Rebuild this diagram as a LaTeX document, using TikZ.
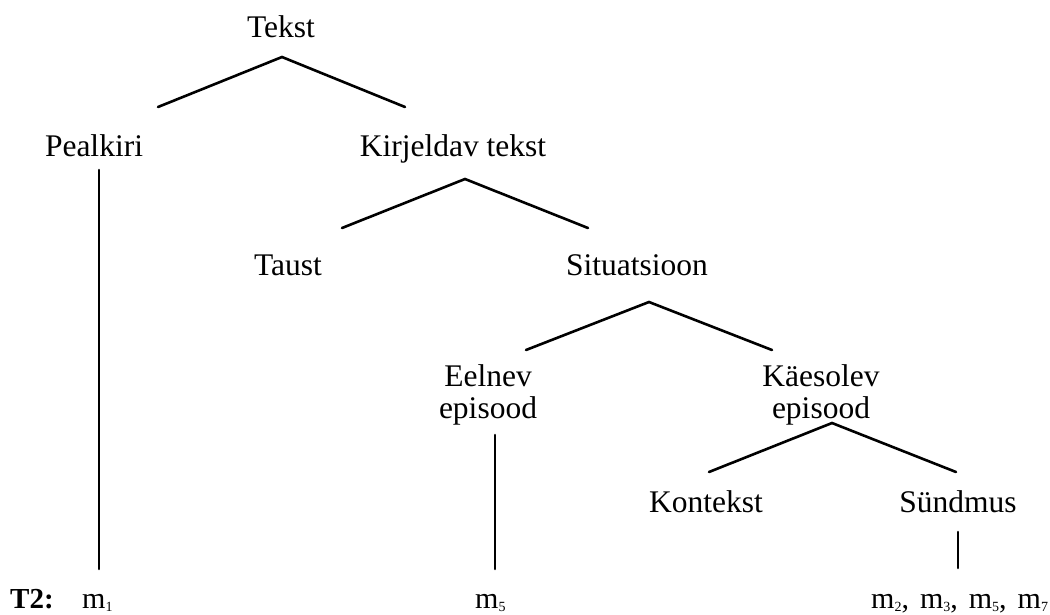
\documentclass[tikz,border=0pt]{standalone}
\usepackage{fontspec}
\setmainfont{Liberation Serif}
% small lowered index after an m
\newcommand{\idx}[1]{\raisebox{-3.5pt}{\fontsize{14}{14}\selectfont #1}}
\begin{document}
\begin{tikzpicture}[x=1pt,y=-1pt,
  lbl/.style={anchor=base,inner sep=0pt,font=\fontsize{31.5}{33}\selectfont},
  bot/.style={anchor=base west,inner sep=0pt,font=\fontsize{30}{32}\selectfont},
  edge/.style={line width=2.6pt,line cap=round}]
\useasboundingbox (0,0) rectangle (1050,614);
% labels of the tree
\node[lbl] (tekst) at (281,37) {Tekst};
\node[lbl] (pealkiri) at (94,156) {Pealkiri};
\node[lbl] (kirjeldav) at (453,156) {Kirjeldav tekst};
\node[lbl] (taust) at (288,275) {Taust};
\node[lbl] (situ) at (637,275) {Situatsioon};
\node[lbl] (eelnev) at (488,386) {Eelnev};
\node[lbl] (eelnev2) at (488,418) {episood};
\node[lbl] (kaes) at (821,386) {Käesolev};
\node[lbl] (kaes2) at (821,418) {episood};
\node[lbl] (kontekst) at (706,512) {Kontekst};
\node[lbl] (syndmus) at (958,512) {Sündmus};
% bottom row
\node[bot,font=\fontsize{29}{30}\selectfont\bfseries] (t2) at (10,608) {T2:};
\node[bot] (m1) at (82,608) {m\idx{1}};
\node[bot] (m5) at (475,608) {m\idx{5}};
\node[bot] (mlist) at (871,608)
  {m\idx{2},\hspace{11pt}m\idx{3},\hspace{11pt}m\idx{5},\hspace{11pt}m\idx{7}};
% branching points and branch ends
\coordinate (a1) at (282,57);
\coordinate (a1l) at (158,107);
\coordinate (a1r) at (405,107);
\coordinate (a2) at (465,179);
\coordinate (a2l) at (342,228);
\coordinate (a2r) at (588,228);
\coordinate (a3) at (649,302);
\coordinate (a3l) at (526,350);
\coordinate (a3r) at (772,350);
\coordinate (a4) at (832,423);
\coordinate (a4l) at (709,472);
\coordinate (a4r) at (956,472);
\coordinate (p1) at (99,170);
\coordinate (p2) at (99,569);
\coordinate (e1) at (495,435);
\coordinate (e2) at (495,569);
\coordinate (s1) at (958,532);
\coordinate (s2) at (958,568);
% branches
\draw[edge] (a1l) -- (a1) -- (a1r);
\draw[edge] (a2l) -- (a2) -- (a2r);
\draw[edge] (a3l) -- (a3) -- (a3r);
\draw[edge] (a4l) -- (a4) -- (a4r);
\draw[edge] (p1) -- (p2);
\draw[edge] (e1) -- (e2);
\draw[edge] (s1) -- (s2);
\end{tikzpicture}
\end{document}
